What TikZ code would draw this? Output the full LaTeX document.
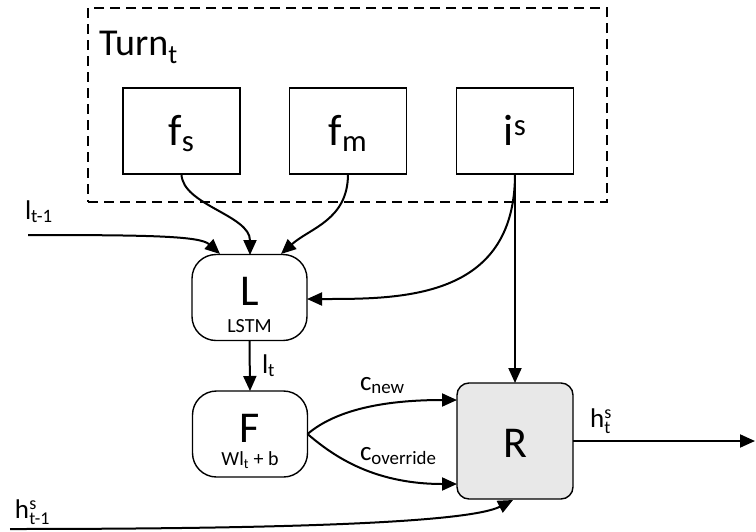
\documentclass[tikz,border=0pt]{standalone}
\usepackage{fontspec}
\setmainfont{Carlito}
\usetikzlibrary{arrows.meta}
\newcommand\hsup[2]{h\kern0.3pt\raisebox{-6pt}{\fontsize{18}{16}\selectfont\shortstack[l]{#1\\#2}}}
\begin{document}
\begin{tikzpicture}[x=1pt,y=-1pt,
  every node/.style={inner sep=0pt, outer sep=0pt},
  dashbox/.style={draw, line width=1.4pt, dash pattern=on 10pt off 6pt},
  sqbox/.style={draw, line width=1.4pt, minimum width=117pt, minimum height=86pt},
  rbox/.style={draw, line width=1.4pt, rounded corners=24pt, minimum width=115pt, minimum height=86pt},
  gbox/.style={draw, line width=1.4pt, rounded corners=12pt, fill=black!9, minimum width=116pt, minimum height=116pt},
  big/.style={font=\fontsize{44}{50}\selectfont, anchor=base},
  small/.style={font=\fontsize{20}{24}\selectfont, anchor=base},
  elab/.style={font=\fontsize{27}{32}\selectfont, anchor=base west},
  arr/.style={line width=2pt, -{Triangle[length=15pt,width=13pt]}}
]
\useasboundingbox (0,0) rectangle (756,531);

% dashed turn box
\node[dashbox, minimum width=519pt, minimum height=194pt] (turn) at (347.5,105) {};
\node[anchor=base west, font=\fontsize{38}{44}\selectfont] (turnlab) at (99,55) {Turn\textsubscript{t}};

% top boxes
\node[sqbox] (fs) at (181.5,131) {};
\node[sqbox] (fm) at (348,131) {};
\node[sqbox] (is) at (515,131) {};
\node[big] (fslab) at (181.5,145) {f\textsubscript{s}};
\node[big] (fmlab) at (348,145) {f\textsubscript{m}};
\node[big] (islab) at (515,145) {i\textsuperscript{s}};

% L, F, R
\node[rbox] (L) at (249.5,297.5) {};
\node[big] (Llab) at (249.5,305) {L};
\node[small] (Lsub) at (249.5,332) {LSTM};
\node[rbox] (F) at (250,434) {};
\node[big] (Flab) at (250,442) {F};
\node[small] (Fsub) at (250,465) {Wl\textsubscript{t} + b};
\node[gbox] (R) at (515,441) {};
\node[big] (Rlab) at (515,457) {R};

% edge labels
\node[elab] (lprev) at (25,219) {l\textsubscript{t-1}};
\node[elab] (lt) at (262,373) {l\textsubscript{t}};
\node[elab] (cnew) at (360,390) {c\textsubscript{new}};
\node[elab] (cover) at (360,460) {c\textsubscript{override}};
\node[elab] (ht) at (590,427) {\hsup{s}{t}};
\node[elab] (hprev) at (15,518) {\hsup{s}{t-1}};

% coordinates
\coordinate (lin) at (28,235);
\coordinate (hin) at (10,529);
\coordinate (hout) at (755,441);
\coordinate (Ltop1) at (220,254);
\coordinate (Ltop2) at (250,255);
\coordinate (Ltop3) at (281,254);
\coordinate (Lright) at (307,299);
\coordinate (Rin1) at (457,400);
\coordinate (Rin2) at (457,484);
\coordinate (Rbot) at (513,500);

% connectors
\draw[arr] (lin) .. controls (150,235) and (200,236) .. (Ltop1);
\draw[arr] (fs.south) .. controls (182,205) and (250,215) .. (Ltop2);
\draw[arr] (fm.south) .. controls (348,220) and (310,228) .. (Ltop3);
\draw[arr] (is.south) .. controls (515,300) and (400,299) .. (Lright);
\draw[arr] (is.south) -- (R.north);
\draw[arr] (L.south) -- (F.north);
\draw[arr] (F.east) .. controls (330,415) and (370,400) .. (Rin1);
\draw[arr] (F.east) .. controls (330,453) and (370,484) .. (Rin2);
\draw[arr] (hin) .. controls (300,529) and (470,522) .. (Rbot);
\draw[arr] (R.east) -- (hout);
\end{tikzpicture}
\end{document}
